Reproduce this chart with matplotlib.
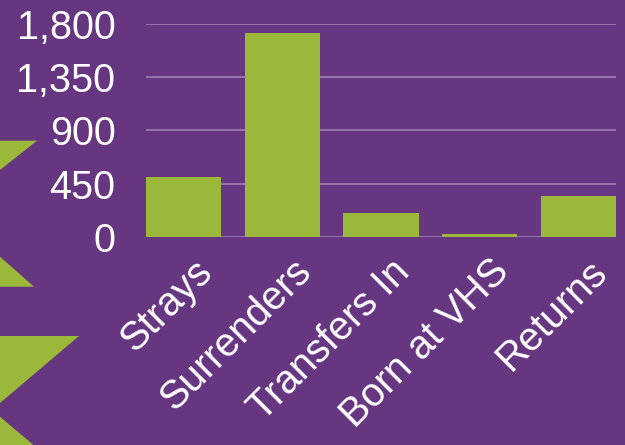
import matplotlib.pyplot as plt
from matplotlib.patches import Polygon
from matplotlib.transforms import ScaledTranslation
from matplotlib.ticker import FuncFormatter

categories = ["Strays", "Surrenders", "Transfers In", "Born at VHS", "Returns"]
counts = [502, 1726, 198, 20, 344]
yticks = [0, 450, 900, 1350, 1800]

bg = "#673681"
green = "#9bb83b"
grid_col = "#9672ad"

plt.rcParams['font.family'] = ['Liberation Sans', 'DejaVu Sans']

fig = plt.figure(figsize=(6.25, 4.45), dpi=100)
fig.patch.set_facecolor(bg)

# decorative triangles on the left edge (pixel positions of the slide art)
W, H = 625, 445
tris = [
    [(0, 140.7), (37, 140.7), (0, 170)],
    [(0, 256.7), (34, 286.7), (0, 286.7)],
    [(0, 336), (79, 336), (0, 403)],
    [(0, 416.7), (33.5, 445), (0, 445)],
]
for t in tris:
    pts = [(x / W, 1 - y / H) for x, y in t]
    fig.patches.append(Polygon(pts, closed=True, transform=fig.transFigure,
                               facecolor=green, edgecolor="none"))

ax = fig.add_axes([146 / W, 1 - 236.7 / H, 470 / W, (236.7 - 24) / H])
ax.set_facecolor("none")

x = range(len(categories))
ax.bar(x, counts, width=0.76, color=green, zorder=3)

ax.set_xlim(-0.38, len(categories) - 1 + 0.38)
ax.set_ylim(0, 1800)
ax.set_yticks(yticks)
ax.yaxis.set_major_formatter(FuncFormatter(lambda v, p: f"{int(v):,}"))
ax.grid(axis="y", color=grid_col, linewidth=1.5, zorder=0)
ax.set_axisbelow(True)
for s in ax.spines.values():
    s.set_visible(False)

ax.tick_params(axis="y", length=0, pad=22, labelsize=28.5, labelcolor="white")
ax.tick_params(axis="x", length=0, pad=0, labelsize=28.5, labelcolor="white")
ax.set_xticks(list(x))
ax.set_xticklabels(categories, rotation=45, ha="right", va="center",
                   rotation_mode="anchor")
offset = ScaledTranslation(23 / 100, -29 / 100, fig.dpi_scale_trans)
for lbl in ax.get_xticklabels():
    lbl.set_transform(lbl.get_transform() + offset)

fig.savefig("out.png", dpi=100, facecolor=bg)
